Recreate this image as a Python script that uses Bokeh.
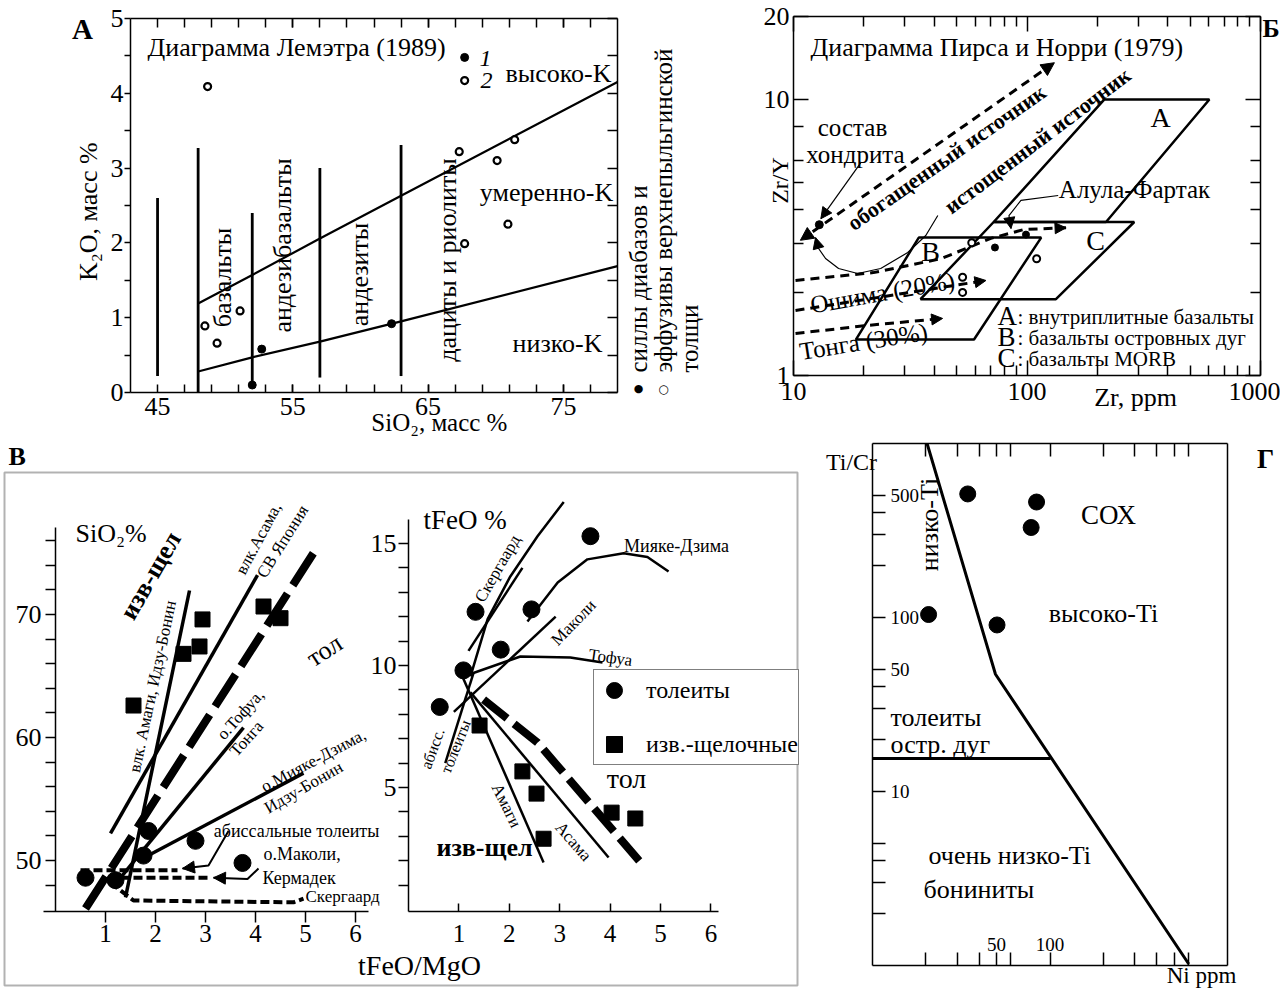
import numpy as np
from bokeh.plotting import figure
from bokeh.models import (Range1d, LinearAxis, LogAxis, FixedTicker, Label, Arrow, NormalHead,
                          CustomJSTickFormatter, Legend, LegendItem, BoxAnnotation)
from bokeh.layouts import row, column
from bokeh.embed import file_html
from bokeh.resources import INLINE

SERIF = "Liberation Serif"
K = "black"

# ======================= DATA =======================
# --- Panel A: K2O vs SiO2 (Le Maitre 1989)
a_sills_sio2 = [52.0, 52.7, 62.3]
a_sills_k2o = [0.10, 0.58, 0.92]
a_eff_sio2 = [48.7, 48.5, 49.4, 51.1, 67.3, 67.7, 70.1, 71.4, 70.9]
a_eff_k2o = [4.09, 0.89, 0.66, 1.09, 3.22, 1.99, 3.10, 3.38, 2.25]
a_key1_sio2, a_key1_k2o = [67.7], [4.48]
a_key2_sio2, a_key2_k2o = [67.7], [4.17]
a_div_sio2 = [45, 48, 52, 57, 63]
a_div_lo = [0.22, 0.0, 0.10, 0.20, 0.22]
a_div_hi = [2.60, 3.27, 2.40, 3.00, 3.31]
a_high_sio2 = [48, 52, 57, 63, 79]
a_high_k2o = [1.19, 1.57, 2.06, 2.63, 4.15]
a_low_sio2 = [48, 52, 57, 63, 79]
a_low_k2o = [0.28, 0.47, 0.68, 0.95, 1.69]
a_xticks = [45, 55, 65, 75]
a_xminor = list(range(47, 79, 2))
a_yticks = [0, 1, 2, 3, 4, 5]
a_yminor = [0.5, 1.5, 2.5, 3.5, 4.5]

# --- Panel B: Zr/Y vs Zr (Pearce & Norry 1979)
b_fA_zr, b_fA_zry = [72, 214, 604, 218], [3.6, 10.0, 10.0, 3.6]
b_fB_zr, b_fB_zry = [18.5, 34.4, 115, 59.3], [1.35, 3.16, 3.16, 1.35]
b_fC_zr, b_fC_zry = [35, 72, 288, 133], [1.89, 3.6, 3.6, 1.89]
b_enr_zr, b_enr_zry = [10.7, 131], [3.09, 13.6]
b_depl_zr = [12.43, 12.81, 13.72, 15.60, 18.83, 23.63, 30.86, 36.86, 41.5]
b_depl_zry = [3.16, 2.885, 2.654, 2.442, 2.342, 2.442, 2.791, 3.216, 3.80]
b_alula_zr = [10.2, 22.0, 42.8, 70, 97, 147]
b_alula_zry = [2.21, 2.36, 2.65, 3.14, 3.38, 3.43]
b_oshima_zr, b_oshima_zry = [10.2, 26, 66.7], [1.72, 1.95, 2.21]
b_tonga_zr, b_tonga_zry = [10.2, 21, 43.5], [1.42, 1.52, 1.61]
b_chond_zr, b_chond_zry = [12.9], [3.52]
b_fill_zr, b_fill_zry = [72.9, 99], [2.91, 3.24]
b_open_zr, b_open_zry = [58, 110, 53, 53], [3.03, 2.65, 2.27, 2.0]
b_ptr1_zr, b_ptr1_zry = [19.4, 13.1], [5.9, 3.7]
b_ptr2_zr, b_ptr2_zry = [136, 94.2, 83.7, 85.4], [4.49, 4.31, 3.8, 3.41]
b_xticks = [10, 100, 1000]
b_xminor = [20, 30, 40, 50, 60, 70, 80, 90, 200, 300, 400, 500, 600, 700, 800, 900]
b_yticks = [1, 10, 20]
b_yminor = [2, 3, 4, 5, 6, 8]

# --- Panel V (left): SiO2 vs tFeO/MgO
vl_thol_r = [0.60, 1.20, 1.86, 1.76, 2.80, 3.74]
vl_thol_s = [48.6, 48.4, 52.4, 50.4, 51.6, 49.8]
vl_ca_r = [1.56, 2.56, 2.88, 2.94, 4.16, 4.50]
vl_ca_s = [62.6, 66.8, 67.4, 69.6, 70.65, 69.7]
vl_amagi_r, vl_amagi_s = [2.68, 1.40], [71.95, 47.0]
vl_asama_r, vl_asama_s = [1.10, 4.04], [52.2, 73.2]
vl_tofua_r, vl_tofua_s = [1.26, 3.76], [48.4, 60.8]
vl_miyake_r, vl_miyake_s = [1.76, 4.96], [50.2, 57.1]
vl_div_r, vl_div_s = [0.60, 5.16], [46.1, 75.0]
vl_abyss_r, vl_abyss_s = [0.50, 2.44], [49.2, 49.2]
vl_makoli_r, vl_makoli_s = [1.04, 3.04], [48.6, 48.6]
vl_skaer_r, vl_skaer_s = [1.10, 1.56, 4.76, 4.96], [48.2, 46.75, 46.6, 46.9]
vl_ptr1_r, vl_ptr1_s = [3.46, 3.06, 2.54], [52.4, 49.6, 49.35]
vl_ptr2_r, vl_ptr2_s = [4.06, 3.84, 3.16], [49.35, 48.5, 48.6]
vl_xticks = [1, 2, 3, 4, 5, 6]
vl_ylabels = [50, 60, 70]
vl_yminor = [v for v in range(48, 77, 2) if v not in (50, 60, 70)]

# --- Panel V (right): tFeO vs tFeO/MgO
vr_thol_r = [0.62, 1.09, 1.33, 1.83, 2.44, 3.61]
vr_thol_f = [8.3, 9.8, 12.2, 10.65, 12.3, 15.3]
vr_ca_r = [1.41, 2.26, 2.54, 2.68, 4.03, 4.50]
vr_ca_f = [7.54, 5.66, 4.75, 2.90, 3.97, 3.73]
vr_sk1_r, vr_sk1_f = [1.19, 2.26], [10.6, 14.0]
vr_sk2_r, vr_sk2_f = [1.23, 1.57, 2.02, 2.56, 3.08], [9.55, 11.9, 13.65, 15.3, 16.7]
vr_mi_r = [2.36, 2.96, 3.55, 4.27, 4.74, 5.16]
vr_mi_f = [11.8, 13.4, 14.35, 14.6, 14.45, 13.85]
vr_mak_r, vr_mak_f = [0.90, 2.92], [8.1, 12.0]
vr_tof_r, vr_tof_f = [1.09, 2.22, 3.21, 3.85], [9.55, 10.37, 10.33, 10.12]
vr_aby_r, vr_aby_f = [0.73, 1.29], [6.0, 9.7]
vr_ama_r, vr_ama_f = [1.07, 2.68], [9.55, 1.93]
vr_asa_r, vr_asa_f = [1.23, 3.97], [8.9, 2.13]
vr_div_r, vr_div_f = [1.49, 2.56, 4.64], [8.6, 6.84, 1.84]
vr_xticks = [1, 2, 3, 4, 5, 6]
vr_ylabels = [5, 10, 15]
vr_yminor = [v for v in range(1, 16) if v not in (5, 10, 15)]

# --- Panel G: Ti/Cr vs Ni
g_bound_ni, g_bound_ticr = [20.3, 49.3, 605], [1000, 47.2, 1.02]
g_iat_ni, g_iat_ticr = [10, 100.8], [15.5, 15.5]
g_pts_ni = [20.7, 34.4, 84, 78.3, 50.3]
g_pts_ticr = [104, 513, 461, 329, 90.6]
g_yticks = [10, 50, 100, 500]
g_yminor = [2, 3, 4, 5, 20, 30, 40, 200, 300, 400]
g_xticks = [50, 100]
g_xminor = [20, 30, 40, 60, 200, 300, 400, 500, 600]


# ======================= HELPERS =======================
def span(v0, v1, p0, p1, P0, P1, log=False):
    """values found at pixels P0, P1 when v0 sits at pixel p0 and v1 at p1"""
    a, b = (np.log10(v0), np.log10(v1)) if log else (v0, v1)
    k = (b - a) / (p1 - p0)
    out = [a + (P - p0) * k for P in (P0, P1)]
    return [float(10 ** u) for u in out] if log else [float(u) for u in out]


def rng(*args, **kw):
    s, e = span(*args, **kw)
    return Range1d(s, e)


def make_fig(box, xr, yr, xt="linear", yt="linear"):
    X0, Y0, X1, Y1 = box
    p = figure(width=X1 - X0, height=Y1 - Y0, x_range=xr, y_range=yr,
               x_axis_type=xt, y_axis_type=yt, x_axis_location=None, y_axis_location=None,
               toolbar_location=None, output_backend="svg",
               min_border_left=0, min_border_right=0, min_border_top=0, min_border_bottom=0)
    for g in p.grid:
        g.visible = False
        g.grid_line_color = None
        g.minor_grid_line_color = None
    p.outline_line_color = None
    p.background_fill_color = "white"
    p.border_fill_color = "white"
    return p


def add_axis(p, side, fixed, bounds, ticks, minor, tin, tout, size=None, standoff=3,
             log=False, minor_in=None, minor_out=None, **rn):
    ax = (LogAxis if log else LinearAxis)(fixed_location=fixed, bounds=bounds,
                                          ticker=FixedTicker(ticks=ticks, minor_ticks=minor), **rn)
    ax.axis_line_color = K
    ax.axis_line_width = 1.5
    ax.major_tick_line_color = K
    ax.minor_tick_line_color = K
    ax.major_tick_line_width = 1.5
    ax.minor_tick_line_width = 1.5
    ax.major_tick_in = tin
    ax.major_tick_out = tout
    ax.minor_tick_in = tin if minor_in is None else minor_in
    ax.minor_tick_out = tout if minor_out is None else minor_out
    if size:
        ax.formatter = CustomJSTickFormatter(code="return String(tick)")
        ax.major_label_text_font = SERIF
        ax.major_label_text_font_size = size
        ax.major_label_text_color = K
        ax.major_label_standoff = standoff
    else:
        ax.formatter = CustomJSTickFormatter(code="return ''")
        ax.major_label_text_font_size = "0px"
        ax.major_label_standoff = 0
    p.add_layout(ax, side)
    return ax


def lab(p, box, px, py, text, size=20, angle=0, align="center",
        baseline="middle", style="normal", font=SERIF):
    X0, Y0, X1, Y1 = box
    p.add_layout(Label(x=px - X0, y=Y1 - py, x_units="screen", y_units="screen",
                       text=text, text_font=font, text_font_size=f"{size}px",
                       text_font_style=style, angle=angle, angle_units="deg",
                       text_align=align, text_baseline=baseline, text_color=K))


def head(p, xs, ys, size=12, **kw):
    p.add_layout(Arrow(end=NormalHead(size=size, fill_color=K, line_color=K, line_width=1),
                       x_start=xs[-2], y_start=ys[-2], x_end=xs[-1], y_end=ys[-1],
                       line_alpha=0, **kw))


# ======================= PANEL A =======================
BA = (0, 0, 720, 440)
pA = make_fig(BA, rng(43, 79, 130, 617, 0, 720), rng(0, 5, 392, 18, 440, 0))
add_axis(pA, "below", 0, (43, 79), a_xticks, a_xminor, 8, 0, "26px", 5)
add_axis(pA, "above", 5, (43, 79), a_xticks, a_xminor, 9, 0)
add_axis(pA, "left", 43, (0, 5), a_yticks, a_yminor, 0, 6, "26px", 1)
add_axis(pA, "right", 79, (0, 5), a_yticks, a_yminor, 10, 0)

pA.segment(x0=a_div_sio2, y0=a_div_lo, x1=a_div_sio2, y1=a_div_hi, line_color=K, line_width=2.8)
pA.line(a_high_sio2, a_high_k2o, line_color=K, line_width=2.2)
pA.line(a_low_sio2, a_low_k2o, line_color=K, line_width=2.2)
pA.scatter(a_sills_sio2, a_sills_k2o, size=8, fill_color=K, line_color=K)
pA.scatter(a_eff_sio2, a_eff_k2o, size=7, fill_color="white", line_color=K, line_width=2.2)
pA.scatter(a_key1_sio2, a_key1_k2o, size=8, fill_color=K, line_color=K)
pA.scatter(a_key2_sio2, a_key2_k2o, size=7, fill_color="white", line_color=K, line_width=2.2)

lab(pA, BA, 82, 28, "А", 29, style="bold")
lab(pA, BA, 147, 47, "Диаграмма Лемэтра (1989)", 26, align="left")
lab(pA, BA, 479, 58, "1", 24, align="left", style="italic")
lab(pA, BA, 480, 80, "2", 24, align="left", style="italic")
lab(pA, BA, 558, 73, "высоко-K", 26)
lab(pA, BA, 546, 192, "умеренно-K", 26)
lab(pA, BA, 557, 343, "низко-K", 26)
lab(pA, BA, 222, 277, "базальты", 26, angle=90)
lab(pA, BA, 282, 245, "андезибазальты", 26, angle=90)
lab(pA, BA, 359, 274, "андезиты", 26, angle=90)
lab(pA, BA, 447, 253, "дациты  и  риолиты", 26, angle=90)
lab(pA, BA, 88, 208, "K₂O,  масс %", 26, angle=90)
lab(pA, BA, 442, 422, "SiO₂,  масс %", 25)
lab(pA, BA, 638, 372, "силлы диабазов и", 25, angle=90, align="left")
lab(pA, BA, 663, 372, "эффузивы верхнепыльгинской", 25, angle=90, align="left")
lab(pA, BA, 689, 372, "толщи", 25, angle=90, align="left")
lab(pA, BA, 638, 388, "●", 11, font="DejaVu Sans")
lab(pA, BA, 663, 388, "○", 12, font="DejaVu Sans", style="bold")

# ======================= PANEL B =======================
BB = (720, 0, 1280, 440)
pB = make_fig(BB, rng(10, 1000, 793, 1260, 720, 1280, log=True),
              rng(1, 20, 375, 16, 440, 0, log=True), "log", "log")
add_axis(pB, "below", 1, (10, 1000), b_xticks, b_xminor, 15, 0, "26px", 7, log=True, minor_in=10)
add_axis(pB, "above", 20, (10, 1000), b_xticks, b_xminor, 15, 0, log=True, minor_in=10)
add_axis(pB, "left", 10, (1, 20), b_yticks, b_yminor, 15, 0, "26px", 4, log=True, minor_in=10)
add_axis(pB, "right", 1000, (1, 20), b_yticks, b_yminor, 15, 0, log=True, minor_in=10)

for zr, zy in [(b_fA_zr, b_fA_zry), (b_fB_zr, b_fB_zry), (b_fC_zr, b_fC_zry)]:
    pB.patch(zr, zy, fill_alpha=0, line_color=K, line_width=2.5)

pB.add_layout(Arrow(start=NormalHead(size=13, fill_color=K, line_color=K),
                    end=NormalHead(size=13, fill_color=K, line_color=K),
                    x_start=b_enr_zr[0], y_start=b_enr_zry[0],
                    x_end=b_enr_zr[1], y_end=b_enr_zry[1],
                    line_width=3, line_dash="9 6", line_color=K))
pB.line(b_depl_zr, b_depl_zry, line_color=K, line_width=1.2)
head(pB, b_depl_zr[1::-1], b_depl_zry[1::-1], size=11)
for zr, zy in [(b_alula_zr, b_alula_zry), (b_oshima_zr, b_oshima_zry), (b_tonga_zr, b_tonga_zry)]:
    pB.line(zr, zy, line_color=K, line_width=3, line_dash="9 6")
    head(pB, zr, zy, size=11)
pB.line(b_ptr1_zr, b_ptr1_zry, line_color=K, line_width=1.2)
head(pB, b_ptr1_zr, b_ptr1_zry, size=11)
pB.line(b_ptr2_zr, b_ptr2_zry, line_color=K, line_width=1.2)
head(pB, b_ptr2_zr, b_ptr2_zry, size=11)
pB.scatter(b_chond_zr, b_chond_zry, size=8, fill_color=K, line_color=K)
pB.scatter(b_fill_zr, b_fill_zry, size=7, fill_color=K, line_color=K)
pB.scatter(b_open_zr, b_open_zry, size=7, fill_color="white", line_color=K, line_width=2)

lab(pB, BB, 1262, 28, "Б", 26, style="bold", align="left")
lab(pB, BB, 810, 47, "Диаграмма Пирса и Норри (1979)", 26, align="left")
lab(pB, BB, 852, 127, "состав", 25)
lab(pB, BB, 855, 154, "хондрита", 25)
lab(pB, BB, 946, 157, "обогащенный источник", 22, angle=35, style="bold")
lab(pB, BB, 1037, 140, "истощенный источник", 22, angle=37, style="bold")
lab(pB, BB, 1134, 189, "Алула-Фартак", 25)
lab(pB, BB, 1160, 117, "A", 28)
lab(pB, BB, 930, 251, "B", 28)
lab(pB, BB, 1095, 240, "C", 28)
lab(pB, BB, 882, 292, "Ошима (20%)", 25, angle=10)
lab(pB, BB, 863, 341, "Тонга (30%)", 25, angle=9)
for yy, letter, txt in [(315, "A", ": внутриплитные базальты"),
                        (336, "B", ": базальты островных дуг"),
                        (357, "C", ": базальты MORB")]:
    lab(pB, BB, 997, yy, letter, 27, align="left")
    lab(pB, BB, 1017, yy + 1, txt, 21, align="left")
lab(pB, BB, 779, 180, "Zr/Y", 24, angle=90)
lab(pB, BB, 1135, 397, "Zr, ppm", 26)

# ======================= PANEL V =======================
BV = (0, 440, 805, 990)
pV = make_fig(BV, rng(1, 6, 105, 355, 0, 805), rng(50, 70, 860, 614, 990, 440))
pV.extra_x_ranges = {"rx": rng(0, 5, 408, 660, 0, 805)}
pV.extra_y_ranges = {"ry": rng(5, 15, 787, 543, 990, 440)}
R = dict(x_range_name="rx", y_range_name="ry")

bx = span(1, 6, 105, 355, 4, 797)
by = span(50, 70, 860, 614, 985, 472)
pV.add_layout(BoxAnnotation(left=bx[0], right=bx[1], bottom=by[0], top=by[1],
                            fill_alpha=0, line_color=K, line_width=2))

# left sub-plot axes
add_axis(pV, "left", 0, (45.85, 77.1), vl_ylabels, vl_yminor, 0, 10, "26px", 4)
add_axis(pV, "below", 45.85, (-0.24, 6.26), vl_xticks, [], 0, 11, "25px", 2)
# right sub-plot axes
add_axis(pV, "left", 0, (-0.1, 16.0), vr_ylabels, vr_yminor, 0, 10, "26px", 2, **R)
add_axis(pV, "below", -0.1, (0, 6.15), vr_xticks, [], 8, 0, "25px", 13, **R)

# left sub-plot content
for xs, ys in [(vl_amagi_r, vl_amagi_s), (vl_asama_r, vl_asama_s),
               (vl_tofua_r, vl_tofua_s), (vl_miyake_r, vl_miyake_s)]:
    pV.line(xs, ys, line_color=K, line_width=3.5)
pV.line(vl_div_r, vl_div_s, line_color=K, line_width=8, line_dash="38 10")
for xs, ys in [(vl_abyss_r, vl_abyss_s), (vl_makoli_r, vl_makoli_s), (vl_skaer_r, vl_skaer_s)]:
    pV.line(xs, ys, line_color=K, line_width=4, line_dash="9 4")
for xs, ys in [(vl_ptr1_r, vl_ptr1_s), (vl_ptr2_r, vl_ptr2_s)]:
    pV.line(xs, ys, line_color=K, line_width=2)
    head(pV, xs, ys, size=12)
pV.scatter(vl_thol_r, vl_thol_s, size=17, fill_color=K, line_color=K)
pV.scatter(vl_ca_r, vl_ca_s, marker="square", size=15, fill_color=K, line_color=K)

# right sub-plot content
for xs, ys in [(vr_sk1_r, vr_sk1_f), (vr_sk2_r, vr_sk2_f), (vr_mi_r, vr_mi_f),
               (vr_mak_r, vr_mak_f), (vr_tof_r, vr_tof_f), (vr_aby_r, vr_aby_f),
               (vr_ama_r, vr_ama_f), (vr_asa_r, vr_asa_f)]:
    pV.line(xs, ys, line_color=K, line_width=2.5, **R)
pV.line(vr_div_r, vr_div_f, line_color=K, line_width=8, line_dash="30 9", **R)
r_th = pV.scatter(vr_thol_r, vr_thol_f, size=17, fill_color=K, line_color=K, **R)
r_ca = pV.scatter(vr_ca_r, vr_ca_f, marker="square", size=15, fill_color=K, line_color=K, **R)

leg = Legend(items=[LegendItem(label="толеиты", renderers=[r_th]),
                    LegendItem(label="изв.-щелочные", renderers=[r_ca])],
             location=(593, 990 - 765), orientation="vertical",
             glyph_width=40, glyph_height=40, label_height=40, spacing=14,
             padding=0, margin=0, label_standoff=12,
             label_text_font=SERIF, label_text_font_size="24px", label_text_color=K,
             border_line_color=K, border_line_width=1.5, background_fill_color="white",
             background_fill_alpha=1)
pV.add_layout(leg)

lab(pV, BV, 8, 456, "В", 26, style="bold", align="left")
lab(pV, BV, 75, 533, "SiO₂%", 26, align="left")
lab(pV, BV, 150, 575, "изв-щел", 26, angle=60, style="bold")
lab(pV, BV, 152, 686, "влк. Амаги, Идзу-Бонин", 17, angle=78)
lab(pV, BV, 258, 538, "влк.Асама,", 17, angle=62)
lab(pV, BV, 282, 541, "СВ Япония", 17, angle=58)
lab(pV, BV, 324, 650, "тол", 26, angle=33)
lab(pV, BV, 240, 714, "о.Тофуа,", 17, angle=48)
lab(pV, BV, 246, 738, "Тонга", 17, angle=48)
lab(pV, BV, 313, 760, "о.Мияке-Дзима,", 17, angle=28)
lab(pV, BV, 303, 787, "Идзу-Бонин", 17, angle=30)
lab(pV, BV, 296, 830, "абиссальные толеиты", 18)
lab(pV, BV, 263, 853, "о.Маколи,", 18, align="left")
lab(pV, BV, 262, 877, "Кермадек", 18, align="left")
lab(pV, BV, 305, 896, "Скергаард", 17, align="left")

lab(pV, BV, 423, 519, "tFeO %", 27, align="left")
lab(pV, BV, 497, 568, "Скергаард", 17, angle=60)
lab(pV, BV, 676, 545, "Мияке-Дзима", 18)
lab(pV, BV, 573, 622, "Маколи", 17, angle=46)
lab(pV, BV, 610, 657, "Тофуа", 17, angle=-8)
lab(pV, BV, 432, 748, "абисс.", 16, angle=70)
lab(pV, BV, 455, 746, "толеиты", 16, angle=68)
lab(pV, BV, 506, 805, "Амаги", 17, angle=-64)
lab(pV, BV, 573, 841, "Асама", 17, angle=-49)
lab(pV, BV, 484, 847, "изв-щел", 26, style="bold")
lab(pV, BV, 626, 778, "тол", 28)
lab(pV, BV, 419, 965, "tFeO/MgO", 28)

# ======================= PANEL G =======================
BG = (805, 440, 1280, 990)
pG = make_fig(BG, rng(10, 1000, 872, 1227, 805, 1280, log=True),
              rng(1, 1000, 965, 443, 990, 440, log=True), "log", "log")
add_axis(pG, "right", 10, (1, 1000), g_yticks, g_yminor, 0, 13, "19px", 5, log=True)
add_axis(pG, "above", 1, (10, 1000), g_xticks, g_xminor, 0, 13, "19px", 2, log=True)
add_axis(pG, "above", 1000, (10, 1000), g_xticks, g_xminor, 13, 0, log=True)
add_axis(pG, "left", 1000, (1, 1000), [], [], 0, 0, log=True)

pG.line(g_bound_ni, g_bound_ticr, line_color=K, line_width=3)
pG.line(g_iat_ni, g_iat_ticr, line_color=K, line_width=3)
pG.scatter(g_pts_ni, g_pts_ticr, size=16, fill_color=K, line_color=K)

lab(pG, BG, 1265, 458, "Г", 27, style="bold")
lab(pG, BG, 851, 461, "Ti/Cr", 24)
lab(pG, BG, 929, 524, "низко-Ti", 26, angle=90)
lab(pG, BG, 1108, 514, "СОХ", 27)
lab(pG, BG, 1103, 613, "высоко-Ti", 26)
lab(pG, BG, 890, 717, "толеиты", 26, align="left")
lab(pG, BG, 890, 744, "остр. дуг", 26, align="left")
lab(pG, BG, 928, 855, "очень низко-Ti", 26, align="left")
lab(pG, BG, 923, 889, "бониниты", 26, align="left")
lab(pG, BG, 1201, 975, "Ni ppm", 23)

layout = column(row(pA, pB), row(pV, pG))
open("out.html", "w").write(file_html(layout, INLINE))
